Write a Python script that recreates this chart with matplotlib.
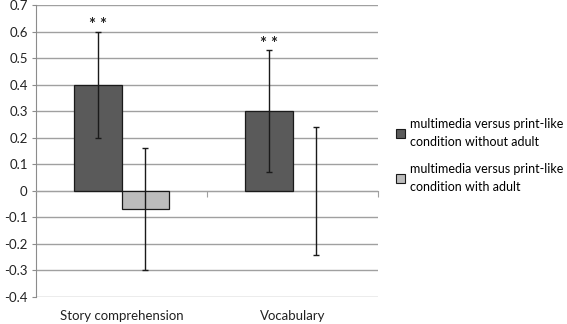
import matplotlib
matplotlib.use("Agg")
import matplotlib.pyplot as plt
import numpy as np
from matplotlib.patches import Patch
import matplotlib.transforms as mtransforms

categories = ["Story comprehension", "Vocabulary"]
series_names = ["multimedia versus print-like\ncondition without adult",
                "multimedia versus print-like\ncondition with adult"]
without_adult = [0.40, 0.30]
without_adult_err = [0.20, 0.23]
with_adult = [-0.07, 0.0]
with_adult_err = [0.23, 0.24]
significance = ["* *", "* *"]
yticks = [-0.4, -0.3, -0.2, -0.1, 0, 0.1, 0.2, 0.3, 0.4, 0.5, 0.6, 0.7]

plt.rcParams['font.family'] = ['Lato', 'DejaVu Sans']

fig = plt.figure(figsize=5.67 * np.array([1, 324 / 567]), dpi=100)
ax = fig.add_axes([36 / 567, 1 - 297 / 324, (378 - 36) / 567, (297 - 5) / 324])

x = np.arange(len(categories))
w = 0.28
colors = ["#5a5a5a", "#bcbcbc"]
for i, (vals, errs, col) in enumerate([(without_adult, without_adult_err, colors[0]),
                                       (with_adult, with_adult_err, colors[1])]):
    pos = x - w / 2 + i * w
    lws = [0.9 if v != 0 else 0 for v in vals]
    ax.bar(pos, vals, width=w, color=col, edgecolor="#1a1a1a", linewidth=lws, zorder=3)
    ax.errorbar(pos, vals, yerr=errs, fmt="none", ecolor="#1a1a1a", elinewidth=1,
                capsize=2, capthick=1, zorder=4)

for xi, v, e, s in zip(x - w / 2, without_adult, without_adult_err, significance):
    ax.annotate(s, (xi, v + e), xytext=(0, -1), textcoords="offset points",
                ha="center", va="bottom", fontsize=12, fontweight="bold", color="#222222")

ax.set_xlim(-0.5, len(categories) - 0.5)
ax.set_ylim(-0.4, 0.7)
ax.set_yticks(yticks)
ax.set_yticklabels([f"{t:g}" for t in yticks], fontsize=9.5)
ax.yaxis.grid(True, color="#a0a0a0", linewidth=1)
ax.set_axisbelow(True)

for sp in ["top", "right"]:
    ax.spines[sp].set_visible(False)
ax.spines["left"].set_color("#8c8c8c")
ax.spines["bottom"].set_position(("data", 0))
ax.spines["bottom"].set_color("#a0a0a0")
ax.tick_params(axis="y", length=3, color="#8c8c8c", pad=3, colors="#222222")
ax.set_xticks(np.arange(-0.5, len(categories), 1.0))
ax.set_xticklabels([])
ax.tick_params(axis="x", length=4, color="#a0a0a0")

trans = mtransforms.blended_transform_factory(ax.transData, ax.transAxes)
for xi, c in zip(x, categories):
    ax.text(xi, -0.065, c, transform=trans, ha="center", va="center", fontsize=9.5, color="#222222")

handles = [Patch(facecolor=colors[0], edgecolor="#1a1a1a", linewidth=0.8),
           Patch(facecolor=colors[1], edgecolor="#1a1a1a", linewidth=0.8)]
leg = fig.legend(handles, series_names, loc="upper left", bbox_to_anchor=(396 / 567, 1 - 118 / 324),
                 frameon=False, fontsize=9.0, handlelength=0.7, handleheight=0.7,
                 handletextpad=0.4, labelspacing=1.2, borderpad=0, borderaxespad=0)
for t in leg.get_texts():
    t.set_linespacing(1.6)

fig.savefig("out.png", dpi=100)
